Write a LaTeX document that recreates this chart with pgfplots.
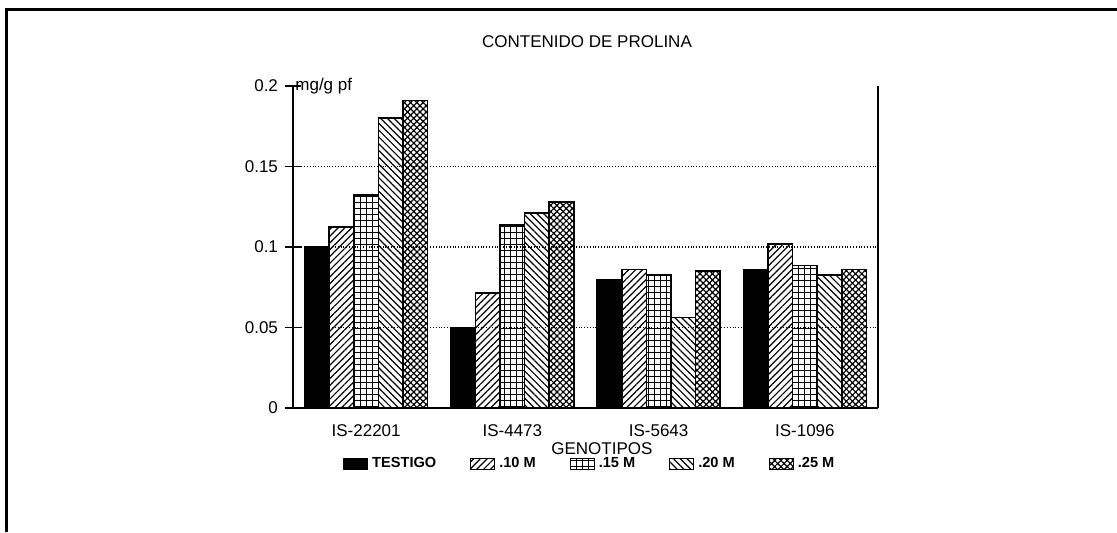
\documentclass[border=0pt]{standalone}
\usepackage{pgfplots}
\pgfplotsset{compat=1.18}
\usepackage{fontspec}
\setmainfont{Liberation Sans}
\usetikzlibrary{patterns.meta}
\begin{document}
\begin{tikzpicture}[x=1pt,y=1pt]
\useasboundingbox (0,0) rectangle (558.5,266);
\draw[line width=1.5pt] (3,0) -- (3,261.5) -- (558.5,261.5);
\node[font=\fontsize{8.5}{9}\selectfont] at (293.5,245) {CONTENIDO DE PROLINA};
\begin{axis}[
  at={(146.5pt,62pt)}, anchor=south west,
  scale only axis, width=292.5pt, height=161pt,
  ymin=0, ymax=0.2, xmin=-0.5, xmax=3.5,
  axis x line*=bottom, axis y line*=left,
  axis line style={line width=1.2pt},
  ybar=0pt, bar width=12.3pt,
  xtick={0,1,2,3},
  xticklabels={IS-22201,IS-4473,IS-5643,IS-1096},
  x tick style={draw=none},
  ytick={0,0.05,0.1,0.15,0.2},
  yticklabels={0,0.05,0.1,0.15,0.2},
  extra y ticks={0.05,0.1,0.15},
  extra y tick labels={},
  extra y tick style={grid=major, major grid style={black, densely dotted, line width=0.6pt}, tick style={draw=none}},
  tick align=center, major tick length=8pt,
  y tick style={black, line width=0.8pt},
  /pgf/number format/assume math mode=true,
  tick label style={font=\fontsize{8.5}{10}\selectfont},
  xticklabel style={yshift=-1pt},
  xlabel={GENOTIPOS},
  xlabel style={at={(axis description cs:0.528,-0.126)}, anchor=center, font=\fontsize{8.5}{10}\selectfont},
  legend columns=5,
  legend style={at={(axis description cs:0.509,-0.174)}, anchor=center, draw=none, fill=none,
    font=\bfseries\fontsize{7.3}{8}\selectfont,
    /tikz/every even column/.append style={column sep=15pt}},
  legend image code/.code={\draw[#1,line width=0.5pt] (0pt,-2.6pt) rectangle (12pt,2.6pt);},
  every axis plot/.append style={draw=black, line width=0.8pt},
  clip=false
]
\addplot[fill=black] coordinates {(0,0.100) (1,0.0497) (2,0.0795) (3,0.0861)};
\addplot[pattern={Lines[angle=45,distance=2.4pt,line width=0.6pt]}] coordinates {(0,0.1124) (1,0.0714) (2,0.0861) (3,0.1017)};
\addplot[pattern={Hatch[angle=0,distance=3pt,line width=0.5pt]}] coordinates {(0,0.1323) (1,0.1137) (2,0.0826) (3,0.0886)};
\addplot[pattern={Lines[angle=-45,distance=2.4pt,line width=0.6pt]}] coordinates {(0,0.180) (1,0.121) (2,0.0563) (3,0.0826)};
\addplot[pattern={Hatch[angle=45,distance=2.2pt,line width=0.6pt]}] coordinates {(0,0.1909) (1,0.1281) (2,0.0851) (3,0.0860)};
\legend{TESTIGO,.10 M,.15 M,.20 M,.25 M}
\draw[line width=1pt] (rel axis cs:1,0) -- (rel axis cs:1,1);
\node[anchor=west, font=\fontsize{8.5}{10}\selectfont, inner sep=1pt] at (rel axis cs:0,1) {mg/g pf};
\end{axis}
\end{tikzpicture}
\end{document}
